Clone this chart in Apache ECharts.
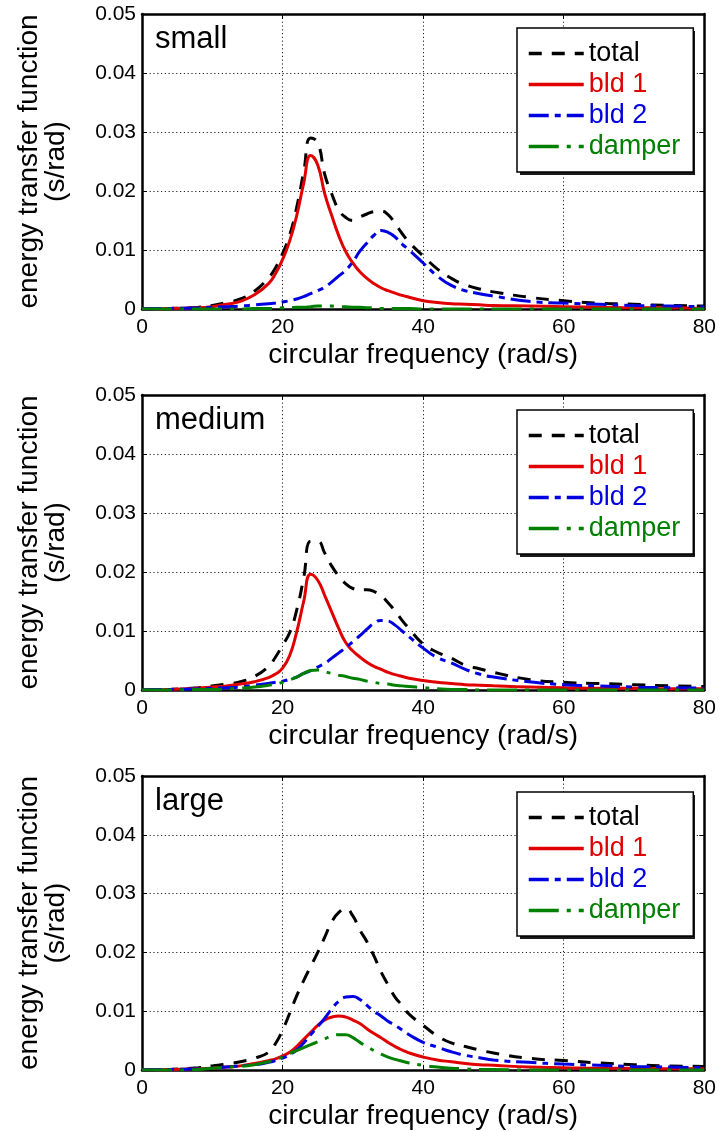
<!DOCTYPE html>
<html>
<head>
<meta charset="utf-8">
<script src="https://cdn.jsdelivr.net/npm/echarts@6/dist/echarts.min.js"></script>
<style>
  html, body { margin: 0; padding: 0; background: #fff; }
  #chart { width: 719px; height: 1131px; }
</style>
</head>
<body>
<div id="chart"></div>
<script>
// ---------------- data ----------------
const freq = [0, 4, 8, 10, 12, 14, 16, 18, 19, 20, 21, 22, 23, 24, 25, 26, 27, 28, 29, 30,
              31, 32, 33, 34, 35, 36, 37, 38, 40, 42, 44, 46, 48, 50, 55, 60, 65, 70, 75, 80];

const panelLabels = ['small', 'medium', 'large'];
const seriesNames = ['total', 'bld 1', 'bld 2', 'damper'];
const xTickLabels = ['0', '20', '40', '60', '80'];
const yTickLabels = ['0', '0.01', '0.02', '0.03', '0.04', '0.05'];

// small
const smallTotal  = [0, 0.0001, 0.0003, 0.0006, 0.0011, 0.0017, 0.0030, 0.0053, 0.0070, 0.0094, 0.0125, 0.0172, 0.0232, 0.0290, 0.0282, 0.0228, 0.0195, 0.0168, 0.0155, 0.0150,
                     0.0156, 0.0161, 0.0165, 0.0166, 0.0160, 0.0145, 0.0128, 0.0113, 0.0090, 0.0068, 0.0052, 0.0041, 0.0034, 0.0029, 0.0020, 0.0014, 0.0010, 0.0008, 0.0006, 0.0005];
const smallBld1   = [0, 0.0001, 0.0002, 0.0004, 0.0008, 0.0013, 0.0024, 0.0043, 0.0060, 0.0084, 0.0115, 0.0158, 0.0213, 0.0260, 0.0244, 0.0195, 0.0158, 0.0124, 0.0097, 0.0078,
                     0.0063, 0.0052, 0.0043, 0.0036, 0.0031, 0.0027, 0.0023, 0.0020, 0.0014, 0.0011, 0.0009, 0.0008, 0.0007, 0.0006, 0.0005, 0.0004, 0.0003, 0.0002, 0.0002, 0.0001];
const smallBld2   = [0, 0.0001, 0.0002, 0.0003, 0.0004, 0.0005, 0.0007, 0.0009, 0.0010, 0.0012, 0.0014, 0.0017, 0.0021, 0.0026, 0.0031, 0.0037, 0.0046, 0.0056, 0.0066, 0.0080,
                     0.0098, 0.0112, 0.0125, 0.0133, 0.0130, 0.0122, 0.0110, 0.0100, 0.0078, 0.0056, 0.0040, 0.0031, 0.0026, 0.0022, 0.0013, 0.0010, 0.0008, 0.0006, 0.0005, 0.0004];
const smallDamper = [0, 0, 0, 0, 0, 0, 0.0001, 0.0001, 0.0001, 0.0002, 0.0002, 0.0003, 0.0003, 0.0004, 0.0005, 0.0005, 0.0005, 0.0004, 0.0004, 0.0003,
                     0.0003, 0.0002, 0.0002, 0.0001, 0.0001, 0.0001, 0.0001, 0.0001, 0, 0, 0, 0, 0, 0, 0, 0, 0, 0, 0, 0];

// medium
const mediumTotal  = [0, 0.0001, 0.0004, 0.0007, 0.0010, 0.0014, 0.0023, 0.0040, 0.0056, 0.0076, 0.0097, 0.0135, 0.0190, 0.0252, 0.0252, 0.0232, 0.0210, 0.0193, 0.0180, 0.0172,
                      0.0170, 0.0170, 0.0167, 0.0160, 0.0148, 0.0134, 0.0118, 0.0104, 0.0078, 0.0064, 0.0054, 0.0042, 0.0036, 0.0030, 0.0018, 0.0013, 0.0011, 0.0009, 0.0007, 0.0006];
const mediumBld1   = [0, 0.0001, 0.0003, 0.0005, 0.0007, 0.0010, 0.0014, 0.0021, 0.0027, 0.0037, 0.0058, 0.0098, 0.0150, 0.0196, 0.0186, 0.0160, 0.0132, 0.0104, 0.0080, 0.0066,
                      0.0056, 0.0047, 0.0040, 0.0035, 0.0030, 0.0026, 0.0023, 0.0020, 0.0016, 0.0013, 0.0011, 0.0009, 0.0008, 0.0007, 0.0005, 0.0004, 0.0003, 0.0003, 0.0002, 0.0002];
const mediumBld2   = [0, 0.0001, 0.0002, 0.0003, 0.0004, 0.0005, 0.0008, 0.0011, 0.0013, 0.0015, 0.0018, 0.0022, 0.0028, 0.0033, 0.0039, 0.0045, 0.0054, 0.0063, 0.0072, 0.0082,
                      0.0092, 0.0103, 0.0113, 0.0118, 0.0117, 0.0110, 0.0100, 0.0090, 0.0071, 0.0055, 0.0046, 0.0035, 0.0027, 0.0022, 0.0014, 0.0009, 0.0007, 0.0005, 0.0004, 0.0003];
const mediumDamper = [0, 0, 0.0001, 0.0001, 0.0002, 0.0003, 0.0005, 0.0008, 0.0010, 0.0013, 0.0017, 0.0022, 0.0028, 0.0033, 0.0034, 0.0031, 0.0028, 0.0025, 0.0023, 0.0020,
                      0.0018, 0.0015, 0.0013, 0.0011, 0.0010, 0.0008, 0.0007, 0.0006, 0.0004, 0.0002, 0.0001, 0.0001, 0, 0, 0, 0, 0, 0, 0, 0];

// large
const largeTotal  = [0, 0.0001, 0.0004, 0.0007, 0.0010, 0.0014, 0.0020, 0.0030, 0.0045, 0.0068, 0.0096, 0.0126, 0.0152, 0.0176, 0.0200, 0.0226, 0.0252, 0.0268, 0.0274, 0.0262,
                     0.0238, 0.0218, 0.0194, 0.0167, 0.0145, 0.0124, 0.0110, 0.0095, 0.0076, 0.0058, 0.0046, 0.0040, 0.0034, 0.0029, 0.0020, 0.0016, 0.0012, 0.0009, 0.0007, 0.0006];
const largeBld1   = [0, 0.0001, 0.0002, 0.0003, 0.0005, 0.0007, 0.0011, 0.0016, 0.0019, 0.0024, 0.0030, 0.0040, 0.0052, 0.0064, 0.0076, 0.0085, 0.0090, 0.0092, 0.0090, 0.0085,
                     0.0079, 0.0070, 0.0062, 0.0055, 0.0047, 0.0040, 0.0034, 0.0029, 0.0022, 0.0017, 0.0014, 0.0011, 0.0009, 0.0008, 0.0005, 0.0004, 0.0003, 0.0003, 0.0002, 0.0002];
const largeBld2   = [0, 0.0001, 0.0002, 0.0003, 0.0005, 0.0007, 0.0009, 0.0013, 0.0016, 0.0020, 0.0026, 0.0034, 0.0046, 0.0060, 0.0074, 0.0088, 0.0104, 0.0117, 0.0124, 0.0125,
                     0.0120, 0.0110, 0.0100, 0.0092, 0.0083, 0.0076, 0.0068, 0.0060, 0.0047, 0.0039, 0.0031, 0.0025, 0.0021, 0.0017, 0.0013, 0.0010, 0.0008, 0.0006, 0.0005, 0.0004];
const largeDamper = [0, 0, 0.0001, 0.0003, 0.0005, 0.0006, 0.0009, 0.0014, 0.0018, 0.0022, 0.0028, 0.0033, 0.0038, 0.0043, 0.0048, 0.0053, 0.0058, 0.0060, 0.0060, 0.0055,
                     0.0047, 0.0040, 0.0033, 0.0027, 0.0022, 0.0018, 0.0015, 0.0012, 0.0008, 0.0005, 0.0003, 0.0002, 0.0001, 0.0001, 0, 0, 0, 0, 0, 0];

const panelData = [
  [smallTotal, smallBld1, smallBld2, smallDamper],
  [mediumTotal, mediumBld1, mediumBld2, mediumDamper],
  [largeTotal, largeBld1, largeBld2, largeDamper]
];

// ---------------- styles ----------------
const FONT = '"Liberation Sans", Arial, Helvetica, sans-serif';
const colors = ['#000000', '#e00000', '#0000e0', '#008000'];
const lineTypes = [[13, 10], 'solid', [20, 6, 6, 6], [30, 8, 4, 8]];

const gridTops = [14, 395, 776];
const gridH = 295;
const legendTops = [28, 410, 792];
const legendLeft = 517, legendW = 175, legendH = 144;

const grids = [], xAxes = [], yAxes = [], series = [], titles = [], legends = [], graphics = [];

const splitLineStyle = { show: true, lineStyle: { color: '#222', width: 1, type: [1.2, 2.6] } };
const frameLine = { show: true, onZero: false, lineStyle: { color: '#000', width: 2.5 } };
const innerTick = { show: true, inside: true, length: 5, lineStyle: { color: '#000', width: 1 } };

for (let p = 0; p < 3; p++) {
  grids.push({ left: 142, width: 564, top: gridTops[p], height: gridH, containLabel: false });

  xAxes.push({
    type: 'value', gridIndex: p, min: 0, max: 80, interval: 20, position: 'bottom',
    axisLine: frameLine, axisTick: innerTick,
    axisLabel: { color: '#000', fontSize: 21, fontFamily: FONT, margin: 8,
                 formatter: v => xTickLabels[Math.round(v / 20)] },
    splitLine: splitLineStyle,
    name: 'circular frequency (rad/s)', nameLocation: 'middle', nameGap: 32,
    nameTextStyle: { color: '#000', fontSize: 28, fontFamily: FONT }
  });
  xAxes.push({
    type: 'value', gridIndex: p, min: 0, max: 80, interval: 20, position: 'top',
    axisLine: frameLine, axisTick: innerTick,
    axisLabel: { show: false }, splitLine: { show: false }
  });
  yAxes.push({
    type: 'value', gridIndex: p, min: 0, max: 0.05, interval: 0.01, position: 'left',
    axisLine: frameLine, axisTick: innerTick,
    axisLabel: { color: '#000', fontSize: 21, fontFamily: FONT, margin: 6,
                 formatter: v => yTickLabels[Math.round(v / 0.01)] },
    splitLine: splitLineStyle,
    name: 'energy transfer function\n(s/rad)', nameLocation: 'middle', nameRotate: 90, nameGap: 72,
    nameTextStyle: { color: '#000', fontSize: 28, fontFamily: FONT, lineHeight: 27 }
  });
  yAxes.push({
    type: 'value', gridIndex: p, min: 0, max: 0.05, interval: 0.01, position: 'right',
    axisLine: frameLine, axisTick: innerTick,
    axisLabel: { show: false }, splitLine: { show: false }
  });

  for (let s = 0; s < 4; s++) {
    const vals = panelData[p][s];
    series.push({
      type: 'line', name: seriesNames[s],
      xAxisIndex: p * 2, yAxisIndex: p * 2,
      data: freq.map((f, i) => [f, vals[i]]),
      showSymbol: false, symbol: 'none', smooth: 0.5,
      lineStyle: { color: colors[s], width: 3, type: lineTypes[s], cap: 'butt' },
      itemStyle: { color: colors[s] },
      emphasis: { disabled: true }, animation: false
    });
  }

  titles.push({
    text: panelLabels[p], left: 155, top: gridTops[p] + 10, padding: 0,
    textStyle: { color: '#000', fontSize: 31, fontWeight: 'normal', fontFamily: FONT }
  });

  // legend drop shadow (decoration)
  graphics.push({
    type: 'rect', z: 1, silent: true,
    shape: { x: legendLeft + 3, y: legendTops[p] + 3, width: legendW, height: legendH },
    style: { fill: '#1a1a1a' }
  });

  legends.push({
    orient: 'vertical', left: legendLeft, top: legendTops[p],
    padding: [10, 13, 10, 10], itemGap: 0, itemWidth: 55, itemHeight: 14,
    backgroundColor: '#fff', borderColor: '#000', borderWidth: 1.5, borderRadius: 0,
    selectedMode: false, z: 10,
    itemStyle: { color: 'rgba(0,0,0,0)', borderWidth: 0, opacity: 0 },
    lineStyle: { width: 3.5, cap: 'butt' },
    textStyle: { fontSize: 27, fontFamily: FONT, lineHeight: 31 },
    data: seriesNames.map((n, i) => ({ name: n, textStyle: { color: colors[i] } }))
  });
}

const chart = echarts.init(document.getElementById('chart'), null, { renderer: 'canvas' });
chart.setOption({
  animation: false,
  backgroundColor: '#fff',
  title: titles,
  legend: legends,
  grid: grids,
  xAxis: xAxes,
  yAxis: yAxes,
  graphic: graphics,
  series: series
});
</script>
</body>
</html>
